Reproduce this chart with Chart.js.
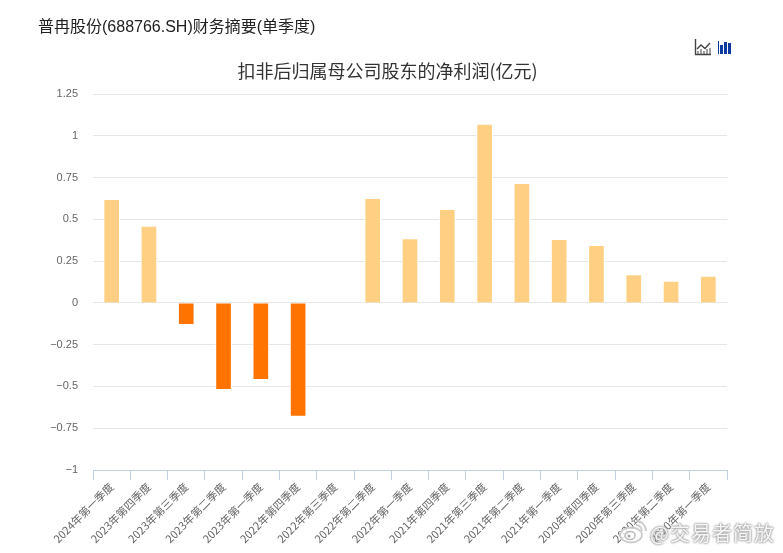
<!DOCTYPE html>
<html><head><meta charset="utf-8">
<script src="https://cdn.jsdelivr.net/npm/chart.js@4"></script>
<style>
html,body{margin:0;padding:0;background:#fff;overflow:hidden}
#wrap{position:relative;width:783px;height:553px;font-family:"Noto Sans CJK SC","Liberation Sans",sans-serif}
canvas{position:absolute;left:0;top:0}
#head{position:absolute;left:38px;top:17px;font-size:16px;line-height:20px;color:#222;font-family:"Liberation Sans","Noto Sans CJK SC",sans-serif;white-space:nowrap}
#icons{position:absolute;left:694px;top:38px}
#mark{position:absolute;left:650px;top:519px;font-size:20px;line-height:28px;color:rgba(255,255,255,.9);text-shadow:0 0 2px #999,0 0 2px #999,0 0 3px #bbb;white-space:nowrap;letter-spacing:1px}
#logo{position:absolute;left:619px;top:519px}
</style></head>
<body><div id="wrap">
<canvas id="c" width="783" height="553"></canvas>
<div id="head">普冉股份(688766.SH)财务摘要(单季度)</div>
<svg id="icons" width="40" height="18" viewBox="0 0 40 18">
<path d="M1.5 1V16.5H17" fill="none" stroke="#444" stroke-width="1.4"/>
<path d="M3 11L7 7L11 10.5L16 5" fill="none" stroke="#444" stroke-width="1.4"/>
<path d="M4 16V13M7 16V11M10 16V13M13 16V11M16 16V10" stroke="#444" stroke-width="1"/>
<rect x="24" y="3" width="1" height="13" fill="#0a3a9f"/><rect x="26" y="7" width="3" height="9" fill="#0a3a9f"/><rect x="30" y="4" width="3" height="12" fill="#0a3a9f"/><rect x="34" y="5" width="3" height="11" fill="#0a3a9f"/>
</svg>
<svg id="logo" width="30" height="25" viewBox="0 0 30 25"><ellipse cx="12" cy="16" rx="11" ry="7.5" fill="rgba(255,255,255,.8)" stroke="#ccc" stroke-width="1.8"/><ellipse cx="11" cy="16.5" rx="5" ry="4" fill="none" stroke="#bbb" stroke-width="1.5"/><circle cx="10" cy="17" r="1.6" fill="#aaa"/><path d="M17 2A10 10 0 0 1 27 12M17 6A6 6 0 0 1 23 12" fill="none" stroke="#ccc" stroke-width="1.8"/></svg>
<div id="mark">@交易者简放</div>
</div>
<script>
const categories = ["2024年第一季度","2023年第四季度","2023年第三季度","2023年第二季度","2023年第一季度","2022年第四季度","2022年第三季度","2022年第二季度","2022年第一季度","2021年第四季度","2021年第三季度","2021年第二季度","2021年第一季度","2020年第四季度","2020年第三季度","2020年第二季度","2020年第一季度"];
const netProfit = [0.62,0.46,-0.13,-0.52,-0.46,-0.68,null,0.625,0.385,0.56,1.07,0.715,0.38,0.345,0.17,0.13,0.16];
const chartTitle = "扣非后归属母公司股东的净利润(亿元)";
const font = "'Noto Sans CJK SC','Liberation Sans',sans-serif";
new Chart(document.getElementById('c'),{
  type:'bar',
  data:{labels:categories,datasets:[{data:netProfit,barThickness:16,borderWidth:1,borderColor:'#fff',
    backgroundColor:c=>c.raw<0?'#ff7300':'#ffd083'}]},
  options:{
    responsive:false,animation:false,
    layout:{padding:{left:0,right:56,top:94,bottom:0}},
    plugins:{legend:{display:false},tooltip:{enabled:false},
      title:{display:false}},
    scales:{
      x:{offset:true,
        grid:{offset:true,drawOnChartArea:false,tickLength:10,tickColor:'#c0d0e0',tickWidth:1},
        border:{color:'#c0d0e0',width:1},
        ticks:{autoSkip:false,minRotation:45,maxRotation:45,color:'#666',padding:0,font:{size:11,family:font}},
        afterFit:s=>{s.height=83}},
      y:{min:-1,max:1.25,
        grid:{color:'#e6e6e6',tickLength:0,drawTicks:false},
        border:{display:false},
        ticks:{stepSize:0.25,color:'#666',padding:15,font:{size:11,family:"'Liberation Sans',sans-serif"},
          callback:v=>(v<0?'−':'')+Math.abs(v)},
        afterFit:s=>{s.width=93}}
    }
  },
  plugins:[{id:'topTitle',afterDraw(ch){const g=ch.ctx;g.save();g.font="18px "+font;g.fillStyle='#333';g.textAlign='center';g.textBaseline='middle';g.fillText(chartTitle,387.5,71);g.restore();}}]
});
</script></body></html>
